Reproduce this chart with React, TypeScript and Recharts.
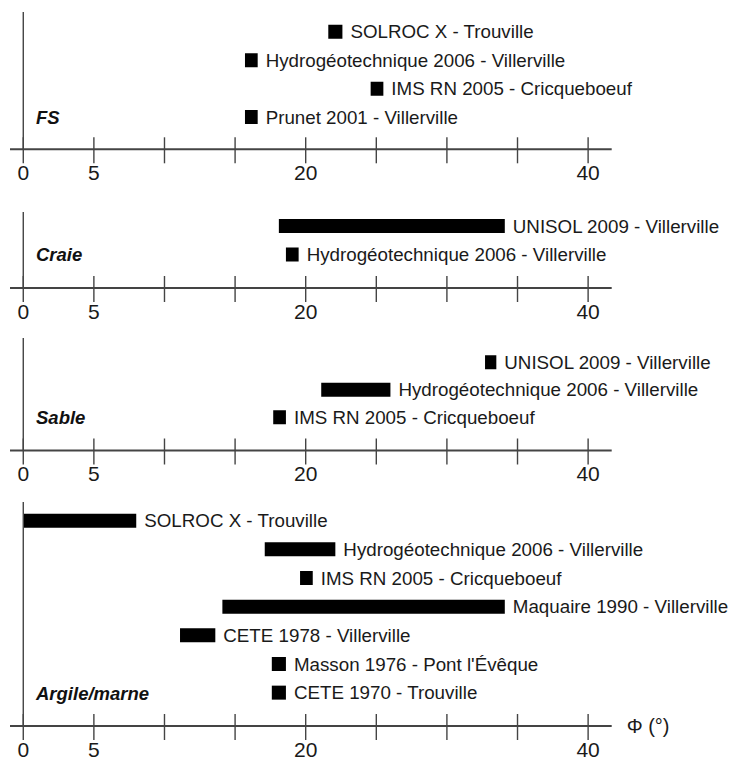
import React from 'react';
import { BarChart, Bar, XAxis, YAxis, ReferenceLine, LabelList } from 'recharts';

// friction angle ranges (deg) read per soil type, low / high ends of each bar
const fsNames = ['SOLROC X - Trouville', 'Hydrogéotechnique 2006 - Villerville', 'IMS RN 2005 - Cricqueboeuf', 'Prunet 2001 - Villerville'];
const fsLow = [21.6, 15.7, 24.6, 15.7];
const fsHigh = [22.6, 16.6, 25.5, 16.6];

const craieNames = ['UNISOL 2009 - Villerville', 'Hydrogéotechnique 2006 - Villerville'];
const craieLow = [18.1, 18.6];
const craieHigh = [34.1, 19.5];

const sableNames = ['UNISOL 2009 - Villerville', 'Hydrogéotechnique 2006 - Villerville', 'IMS RN 2005 - Cricqueboeuf'];
const sableLow = [32.7, 21.1, 17.7];
const sableHigh = [33.5, 26.0, 18.6];

const argileNames = [
  'SOLROC X - Trouville',
  'Hydrogéotechnique 2006 - Villerville',
  'IMS RN 2005 - Cricqueboeuf',
  'Maquaire 1990 - Villerville',
  'CETE 1978 - Villerville',
  "Masson 1976 - Pont l'Évêque",
  'CETE 1970 - Trouville',
];
const argileLow = [0.05, 17.1, 19.6, 14.1, 11.1, 17.6, 17.6];
const argileHigh = [8.0, 22.1, 20.5, 34.1, 13.6, 18.6, 18.6];

const panelTitles = ['FS', 'Craie', 'Sable', 'Argile/marne'];
const axisTicks = [0, 5, 10, 15, 20, 25, 30, 35, 40];
const labelledTicks = [0, 5, 20, 40];
const axisUnit = 'Φ (°)';

const DOMAIN: [number, number] = [-0.94, 41.67];
const WIDTH = 732;
const PLOT_LEFT = 10;
const PLOT_RIGHT = 611.7;
const TOP_MARGIN = 10;
const AXIS_H = 40;
const INK = '#1a1a1a';
const LINE = '#444';

const toRows = (names: string[], low: number[], high: number[]) =>
  names.map((name, i) => ({ name, range: [low[i], high[i]] }));

const panels = [
  { title: panelTitles[0], rows: toRows(fsNames, fsLow, fsHigh), plotTop: 12, axisY: 149.3, padTop: 5.8, padBottom: 17.8, labelDy: 31, unit: false },
  { title: panelTitles[1], rows: toRows(craieNames, craieLow, craieHigh), plotTop: 212, axisY: 288, padTop: 0, padBottom: 19, labelDy: 31, unit: false },
  { title: panelTitles[2], rows: toRows(sableNames, sableLow, sableHigh), plotTop: 338, axisY: 450.5, padTop: 10.2, padBottom: 19.8, labelDy: 30, unit: false },
  { title: panelTitles[3], rows: toRows(argileNames, argileLow, argileHigh), plotTop: 502, axisY: 726, padTop: 4.7, padBottom: 18.7, labelDy: 31, unit: true },
];

const makeTick = (labelDy: number) => (props: any) => {
  const { x, y, payload } = props;
  return (
    <g>
      <line x1={x} x2={x} y1={y - 12} y2={y + 14} stroke={LINE} strokeWidth={1.4} />
      {labelledTicks.includes(payload.value) && (
        <text x={x} y={y + labelDy} textAnchor="middle" fontSize={21} fill={INK}>
          {payload.value}
        </text>
      )}
    </g>
  );
};

const unitLabel = (props: any) => {
  const { viewBox } = props;
  return (
    <text x={viewBox.x + viewBox.width + 15} y={viewBox.y} dominantBaseline="central" fontSize={20} fill={INK}>
      {axisUnit}
    </text>
  );
};

const Panel = ({ p }: { p: (typeof panels)[number] }) => {
  const height = TOP_MARGIN + (p.axisY - p.plotTop) + AXIS_H;
  const last = p.rows[p.rows.length - 1].name;
  return (
    <div style={{ position: 'absolute', left: 0, top: p.plotTop - TOP_MARGIN }}>
      <BarChart
        layout="vertical"
        width={WIDTH}
        height={height}
        data={p.rows}
        margin={{ top: TOP_MARGIN, right: WIDTH - PLOT_RIGHT, left: PLOT_LEFT, bottom: 0 }}
      >
        <XAxis
          type="number"
          domain={DOMAIN}
          allowDataOverflow
          ticks={axisTicks}
          interval={0}
          height={AXIS_H}
          tickSize={0}
          tickMargin={0}
          tickLine={false}
          axisLine={{ stroke: LINE, strokeWidth: 2 }}
          tick={makeTick(p.labelDy)}
          label={p.unit ? unitLabel : undefined}
        />
        <YAxis type="category" dataKey="name" hide padding={{ top: p.padTop, bottom: p.padBottom }} />
        <ReferenceLine x={0} stroke={LINE} strokeWidth={1.4} />
        <ReferenceLine
          y={last}
          stroke="none"
          label={{ value: p.title, position: 'insideLeft', offset: 26, fill: '#111', fontSize: 18.5, fontWeight: 'bold', fontStyle: 'italic' }}
        />
        <Bar dataKey="range" fill="#000" barSize={14} isAnimationActive={false}>
          <LabelList dataKey="name" position="right" offset={8} fill={INK} fontSize={18.75} />
        </Bar>
      </BarChart>
    </div>
  );
};

export default function App() {
  return (
    <div
      style={{
        position: 'absolute',
        left: 0,
        top: 0,
        width: WIDTH,
        height: 763,
        overflow: 'hidden',
        background: '#fff',
        fontFamily: '"Liberation Sans", Arial, sans-serif',
      }}
    >
      {panels.map((p) => (
        <Panel key={p.title} p={p} />
      ))}
    </div>
  );
}
